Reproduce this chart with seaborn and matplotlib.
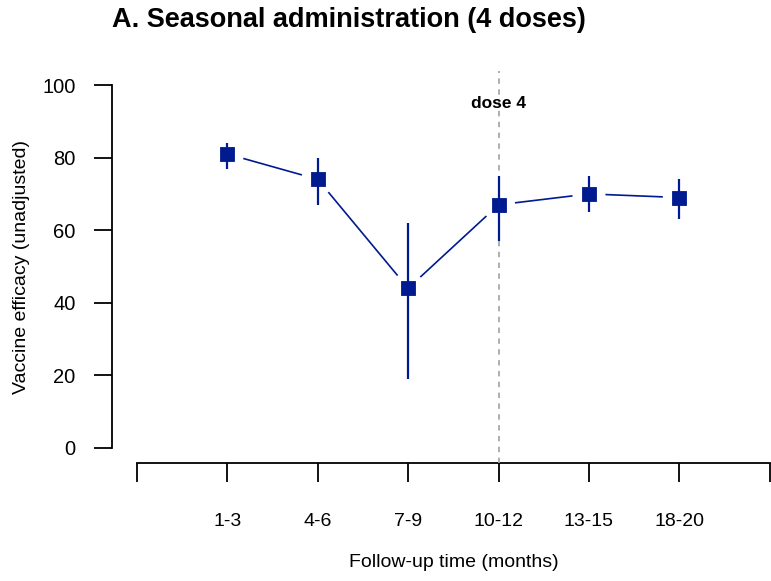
import numpy as np
import pandas as pd
import matplotlib
matplotlib.use("Agg")
import matplotlib.pyplot as plt
import seaborn as sns

categories = ["1-3", "4-6", "7-9", "10-12", "13-15", "18-20"]
efficacy = [81, 74, 44, 67, 70, 69]
ci_lower = [77, 67, 19, 57, 65, 63]
ci_upper = [84, 80, 62, 75, 75, 74]
dose_label = "dose 4"
dose_category = "10-12"

sns.set_style("white")
plt.rcParams["font.family"] = ["Liberation Sans", "DejaVu Sans"]
plt.rcParams["text.color"] = "black"
plt.rcParams["axes.labelcolor"] = "black"

df = pd.DataFrame({
    "pos": np.arange(1, len(categories) + 1),
    "cat": categories,
    "ve": efficacy,
    "lo": ci_lower,
    "hi": ci_upper,
})

navy = "#001a8f"
W, H = 771, 581
fig = plt.figure(figsize=(W / 100, H / 100), dpi=100)
left_px, right_px, top_px, bottom_px = 111.7, 795.0, 70.5, 462.5
ax = fig.add_axes([left_px / W, 1 - bottom_px / H,
                   (right_px - left_px) / W, (bottom_px - top_px) / H])

# connecting line
sns.lineplot(data=df, x="pos", y="ve", ax=ax, color=navy, lw=1.2,
             zorder=2, legend=False)
# white halo to create gaps (type="b")
sns.scatterplot(data=df, x="pos", y="ve", ax=ax, marker="o", s=33 ** 2 * 0.52,
                color="white", edgecolor="none", linewidth=0, zorder=3,
                legend=False)
# dose line
dose_x = df.loc[df["cat"] == dose_category, "pos"].iloc[0]
ax.axvline(dose_x, color="#a8a8a8", lw=1.3, dashes=(3, 3), zorder=4)
ax.text(dose_x, 95, dose_label, ha="center", va="center",
        fontsize=12.5, fontweight="bold", color="black", zorder=7)
# CI bars
ax.vlines(df["pos"], df["lo"], df["hi"], color=navy, lw=1.6, zorder=5)
# markers
sns.scatterplot(data=df, x="pos", y="ve", ax=ax, marker="s", s=9.4 ** 2,
                color=navy, edgecolor=navy, linewidth=0.6, zorder=6,
                legend=False)

ax.set_xlim(-0.28, 7.28)
ax.set_ylim(-4, 104)
ax.set_xticks(np.arange(0, 8))
ax.set_xticklabels([""] + categories + [""])
ax.set_yticks([0, 20, 40, 60, 80, 100])
ax.set_yticklabels(["0", "20", "40", "60", "80", "100"])

for s in ["top", "right"]:
    ax.spines[s].set_visible(False)
ax.spines["left"].set_bounds(0, 100)
ax.spines["bottom"].set_bounds(0, 7)
for s in ["left", "bottom"]:
    ax.spines[s].set_linewidth(1.3)
    ax.spines[s].set_color("black")

ax.tick_params(axis="y", direction="out", length=13, width=1.3,
               labelsize=14.5, pad=13, colors="black", left=True)
ax.tick_params(axis="x", direction="out", length=13.5, width=1.3,
               labelsize=14, pad=23, colors="black", bottom=True)

ax.set_xlabel("Follow-up time (months)", fontsize=14, labelpad=17,
              color="black")
ax.set_ylabel("Vaccine efficacy (unadjusted)", fontsize=14, color="black")
ax.yaxis.set_label_coords(-0.12, 0.5)
ax.set_title("A. Seasonal administration (4 doses)", loc="left",
             fontsize=19.5, fontweight="bold", pad=31, color="black")

fig.savefig("out.png", dpi=100)
